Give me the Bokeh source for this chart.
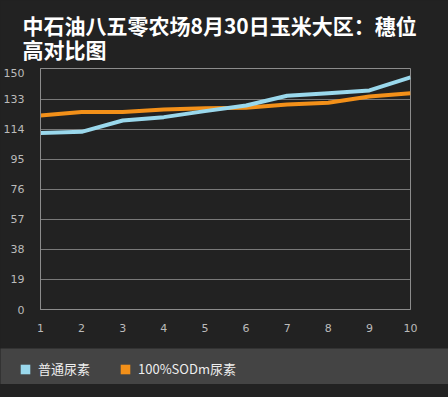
import numpy as np
from bokeh.plotting import figure
from bokeh.models import Range1d, FixedTicker, Legend, LegendItem, GlobalInlineStyleSheet
from bokeh.layouts import column
from bokeh.embed import file_html
from bokeh.resources import INLINE

title_text = "中石油八五零农场8月30日玉米大区：穗位\n高对比图"
x_vals = [1, 2, 3, 4, 5, 6, 7, 8, 9, 10]
normal_urea = [111.7, 112.5, 119.7, 121.8, 125.6, 129.2, 135.3, 137.0, 138.7, 147.0]
sodm_urea = [122.9, 125.0, 125.0, 126.7, 127.5, 127.7, 129.8, 130.9, 134.9, 137.0]
series_names = ["普通尿素", "100%SODm尿素"]
y_ticks = [0, 19, 38, 57, 76, 95, 114, 133, 150]
grid_ticks = [19, 38, 57, 76, 95, 114, 133]

BLUE = "#9ad8ec"
ORANGE = "#f39019"
BG = "#222222"

p = figure(width=448, height=348, x_range=Range1d(1, 10), y_range=Range1d(0, 152.6),
           output_backend="svg", toolbar_location=None,
           background_fill_color=BG, border_fill_color=BG,
           min_border_left=40, min_border_right=38, min_border_top=68, min_border_bottom=39)
p.stylesheets = [GlobalInlineStyleSheet(css="body{background-color:#222222;}")]

p.title.text = title_text
p.title.text_color = "#ffffff"
p.title.text_font = "Noto Sans CJK SC"
p.title.text_font_style = "bold"
p.title.text_font_size = "21px"
p.title.text_line_height = 0.82
p.title.align = "left"
p.title.vertical_align = "top"
p.title.offset = -18
p.title.standoff = 4

p.outline_line_color = "#8c8c8c"
p.outline_line_width = 1

for ax in (p.xaxis, p.yaxis):
    ax.axis_line_color = "#8c8c8c"
    ax.major_tick_line_color = None
    ax.minor_tick_line_color = None
    ax.major_label_text_color = "#bbbbbb"
    ax.major_label_text_font = "DejaVu Sans"
    ax.major_label_text_font_size = "11px"
p.xaxis.ticker = FixedTicker(ticks=x_vals)
p.yaxis.ticker = FixedTicker(ticks=y_ticks)
p.xaxis.major_label_standoff = 8
p.yaxis.major_label_standoff = 10

p.xgrid.grid_line_color = None
p.ygrid.ticker = FixedTicker(ticks=grid_ticks)
p.ygrid.grid_line_color = "#d0d0d0"
p.ygrid.grid_line_dash = "1 1"
p.ygrid.grid_line_width = 1

p.line(x_vals, sodm_urea, line_color=ORANGE, line_width=4)
p.line(x_vals, normal_urea, line_color=BLUE, line_width=4)

# legend band
p2 = figure(width=448, height=36, x_range=Range1d(0, 1), y_range=Range1d(0, 1),
            output_backend="svg", toolbar_location=None,
            background_fill_color="#444444", border_fill_color="#444444",
            min_border=0, outline_line_color=None)
p2.axis.visible = False
p2.grid.visible = False
nan = [np.nan]
r1 = p2.quad(left=nan, right=nan, top=nan, bottom=nan, fill_color=BLUE, line_color=None)
r2 = p2.quad(left=nan, right=nan, top=nan, bottom=nan, fill_color=ORANGE, line_color=None)
legend = Legend(items=[LegendItem(label=series_names[0], renderers=[r1]),
                       LegendItem(label=series_names[1], renderers=[r2])],
                orientation="horizontal", location=(19, 6),
                padding=0, margin=0, spacing=0,
                glyph_width=12, glyph_height=12, label_standoff=7, label_width=81,
                label_height=12,
                label_text_color="#eeeeee", label_text_font="Noto Sans CJK SC",
                label_text_font_size="13px",
                background_fill_alpha=0, border_line_color=None)
p2.add_layout(legend)

layout = column(column(p), column(p2), spacing=0)
open("out.html", "w").write(file_html(layout, INLINE))
